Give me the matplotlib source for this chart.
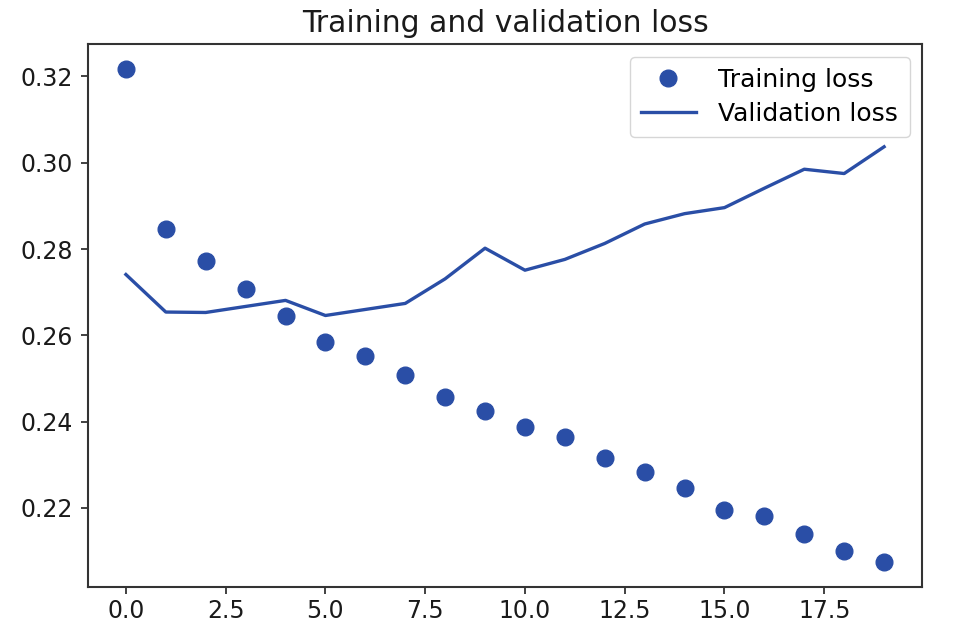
import numpy as np
import matplotlib
matplotlib.use("Agg")
import matplotlib.pyplot as plt

# values
epochs = list(range(20))
train_loss = [0.3218, 0.2847, 0.2772, 0.2708, 0.2644, 0.2585, 0.2551, 0.2508,
              0.2456, 0.2424, 0.2388, 0.2365, 0.2315, 0.2284, 0.2247, 0.2195,
              0.2181, 0.2140, 0.2101, 0.2074]
val_loss = [0.2741, 0.2654, 0.2653, 0.2667, 0.2681, 0.2646, 0.2660, 0.2674,
            0.2731, 0.2802, 0.2751, 0.2776, 0.2813, 0.2858, 0.2882, 0.2896,
            0.2941, 0.2985, 0.2975, 0.3037]

col = '#2a4ea6'

fig = plt.figure(figsize=(9.72, 6.38), dpi=100)
ax = fig.add_axes([88/972, 1-587/638, (922-88)/972, (587-44)/638])

ax.plot(epochs, train_loss, 'o', color=col, markersize=12, label='Training loss')
ax.plot(epochs, val_loss, '-', color=col, linewidth=2.4, label='Validation loss')

ax.set_title('Training and validation loss', fontsize=21.5, color='#1a1a1a', pad=9)
ax.tick_params(labelsize=17, length=5, width=1.3, colors='#333333', labelcolor='#1a1a1a')
ax.tick_params(axis='y', pad=6)
for s in ax.spines.values():
    s.set_linewidth(1.5)
    s.set_color('#333333')

leg = ax.legend(fontsize=18, loc='upper right', handlelength=2.2, borderpad=0.45,
                labelspacing=0.4, handletextpad=0.9, borderaxespad=0.5)
leg.get_frame().set_edgecolor('#cccccc')

fig.savefig('out.png', dpi=100)
